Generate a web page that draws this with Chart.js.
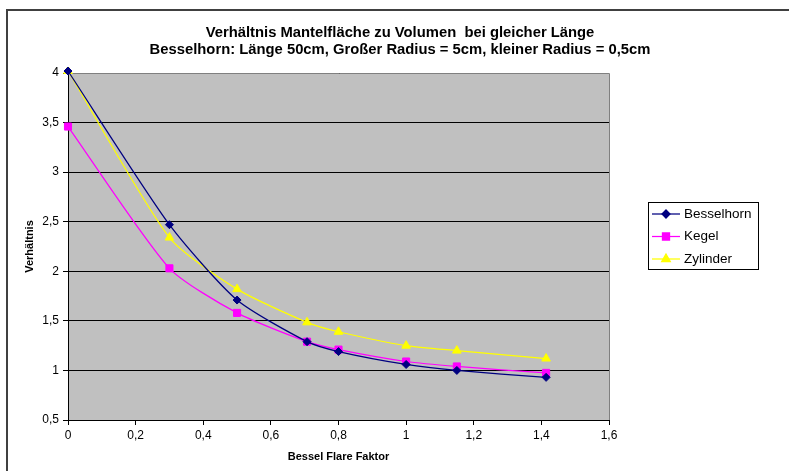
<!DOCTYPE html>
<html>
<head>
<meta charset="utf-8">
<script src="https://cdn.jsdelivr.net/npm/chart.js@4.4.1/dist/chart.umd.min.js"></script>
<style>
  html, body { margin: 0; padding: 0; background: #fff; }
  #wrap { width: 789px; height: 471px; }
</style>
</head>
<body>
<div id="wrap"><canvas id="chart" width="789" height="471"></canvas></div>
<script>
// Messwerte: Bessel Flare Faktor und Verhältnis Mantelfläche/Volumen
const flareFaktor = [0, 0.3, 0.5, 0.707, 0.8, 1.0, 1.15, 1.414];
const besselhorn = [4.02, 2.47, 1.71, 1.29, 1.19, 1.06, 1.00, 0.93];
const kegel = [3.46, 2.03, 1.58, 1.29, 1.21, 1.09, 1.04, 0.975];
const zylinder = [4.02, 2.34, 1.82, 1.485, 1.39, 1.25, 1.20, 1.12];

const seriesNames = ['Besselhorn', 'Kegel', 'Zylinder'];
const titleLines = [
  'Verhältnis Mantelfläche zu Volumen  bei gleicher Länge',
  'Besselhorn: Länge 50cm, Großer Radius = 5cm, kleiner Radius = 0,5cm'
];
const xTitle = 'Bessel Flare Faktor';
const yTitle = 'Verhältnis';

const FONT = "'Liberation Sans', Arial, sans-serif";

const toPoints = (ys) => flareFaktor.map((x, i) => ({ x: x, y: ys[i] }));
const komma = (v) => String(Math.round(v * 10) / 10).replace('.', ',');

// Hintergrund, Rahmen und graue Zeichenfläche
const backdrop = {
  id: 'backdrop',
  beforeDraw(chart) {
    const { ctx, chartArea: a } = chart;
    ctx.save();
    ctx.fillStyle = '#fff';
    ctx.fillRect(0, 0, chart.width, chart.height);
    ctx.strokeStyle = '#404040';
    ctx.lineWidth = 2;
    ctx.strokeRect(7, 10, 800, 500);
    ctx.fillStyle = '#c0c0c0';
    ctx.fillRect(a.left, a.top, a.right - a.left, a.bottom - a.top);
    ctx.restore();
  },
  beforeDatasetsDraw(chart) {
    const { ctx, chartArea: a } = chart;
    ctx.save();
    ctx.strokeStyle = '#808080';
    ctx.lineWidth = 1;
    ctx.beginPath();
    ctx.moveTo(a.left + 1, Math.round(a.top) + 0.5);
    ctx.lineTo(Math.round(a.right) + 0.5, Math.round(a.top) + 0.5);
    ctx.lineTo(Math.round(a.right) + 0.5, a.bottom);
    ctx.stroke();
    ctx.restore();
  }
};

// Zweizeiliger Titel
const titel = {
  id: 'titel',
  afterDraw(chart) {
    const ctx = chart.ctx;
    ctx.save();
    ctx.fillStyle = '#000';
    ctx.font = 'bold 14.8px ' + FONT;
    ctx.textAlign = 'center';
    ctx.textBaseline = 'middle';
    ctx.fillText(titleLines[0], 400, 33);
    ctx.fillText(titleLines[1], 400, 50);
    ctx.restore();
  }
};

// Legende mit Linie und Marker
const legende = {
  id: 'legende',
  afterDraw(chart) {
    const ctx = chart.ctx;
    ctx.save();
    ctx.strokeStyle = '#000';
    ctx.lineWidth = 1;
    ctx.strokeRect(648.5, 202.5, 110, 67);
    const rows = [214, 236.5, 259];
    chart.data.datasets.forEach((ds, i) => {
      const y = rows[i];
      ctx.strokeStyle = ds.borderColor;
      ctx.lineWidth = ds.borderWidth;
      ctx.beginPath();
      ctx.moveTo(652, y);
      ctx.lineTo(680, y);
      ctx.stroke();
      ctx.fillStyle = ds.pointBackgroundColor;
      ctx.strokeStyle = ds.pointBorderColor;
      Chart.helpers.drawPoint(ctx, {
        pointStyle: ds.pointStyle, radius: ds.pointRadius, rotation: 0, borderWidth: 1
      }, 666, y);
      ctx.fillStyle = '#000';
      ctx.font = '13.5px ' + FONT;
      ctx.textAlign = 'left';
      ctx.textBaseline = 'middle';
      ctx.fillText(ds.label, 684, y);
    });
    ctx.restore();
  }
};

const makeSet = (label, data, color, style, radius) => ({
  label: label,
  data: toPoints(data),
  borderColor: color,
  backgroundColor: color,
  pointBackgroundColor: color,
  pointBorderColor: color,
  pointStyle: style,
  pointRadius: radius,
  pointBorderWidth: 1,
  borderWidth: 1.25,
  tension: 0.22,
  clip: 6
});

new Chart(document.getElementById('chart'), {
  type: 'line',
  data: {
    datasets: [
      makeSet(seriesNames[0], besselhorn, '#000080', 'rectRot', 4),
      makeSet(seriesNames[1], kegel, '#ff00ff', 'rect', 5),
      makeSet(seriesNames[2], zylinder, '#ffff00', 'triangle', 5)
    ]
  },
  options: {
    responsive: false,
    animation: false,
    layout: { padding: { top: 73, right: 180, left: 0, bottom: 0 } },
    plugins: {
      legend: { display: false },
      title: { display: false },
      tooltip: { enabled: false }
    },
    scales: {
      x: {
        type: 'linear',
        min: 0,
        max: 1.6,
        afterFit: (s) => { s.height = 51; },
        ticks: {
          stepSize: 0.2,
          padding: 3,
          color: '#000',
          maxRotation: 0,
          font: { family: FONT, size: 12 },
          callback: (v) => komma(v)
        },
        grid: { drawOnChartArea: false, drawTicks: true, tickLength: 5, tickColor: '#000' },
        border: { color: '#000', width: 1 },
        title: {
          display: true,
          text: xTitle,
          color: '#000',
          font: { family: FONT, size: 11, weight: 'bold' },
          padding: { top: 0, bottom: 7 }
        }
      },
      y: {
        min: 0.5,
        max: 4,
        afterFit: (s) => { s.width = 68; },
        ticks: {
          stepSize: 0.5,
          padding: 4,
          color: '#000',
          font: { family: FONT, size: 12 },
          callback: (v) => komma(v)
        },
        grid: { color: '#000', lineWidth: 1, tickLength: 5, tickColor: '#000' },
        border: { color: '#000', width: 1 },
        title: {
          display: true,
          text: yTitle,
          color: '#000',
          font: { family: FONT, size: 11, weight: 'bold' },
          padding: { top: 23, bottom: 0 }
        }
      }
    }
  },
  plugins: [backdrop, titel, legende]
});
</script>
</body>
</html>
